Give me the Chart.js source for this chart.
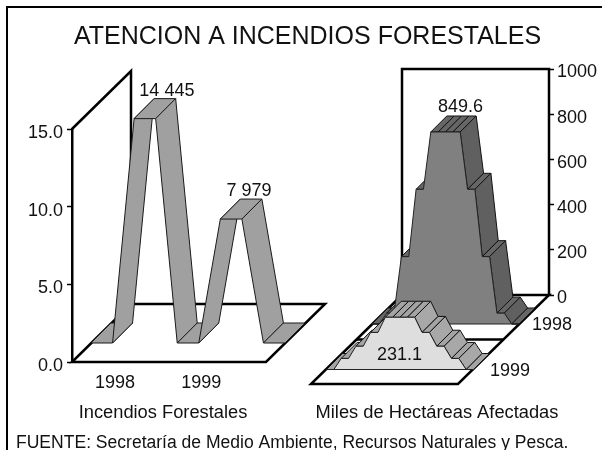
<!DOCTYPE html>
<html><head><meta charset="utf-8">
<style>html,body{margin:0;padding:0;background:#fff}canvas{display:block}</style>
<script src="https://cdn.jsdelivr.net/npm/chart.js@4"></script>
</head><body><canvas id="c" width="602" height="450"></canvas>
<script>
const chartTitle = 'ATENCION A INCENDIOS FORESTALES';
const sourceNote = 'FUENTE: Secretaría de Medio Ambiente, Recursos Naturales y Pesca.';
const leftAxisName = 'Incendios Forestales';
const rightAxisName = 'Miles de Hectáreas Afectadas';
const fireCategories = ['', '', '1998', '', '', '', '1999', '', '', ''];
const fireValues = [0, 0, 14.445, 14.445, 0, 0, 7.979, 7.979, 0, 0];
const fireLabels = ['14 445', '7 979'];
const areaSteps = ['0','1','2','3','4','5','6','7','8','9','10','11','12','13','14','15','16','17','18','19','20'];
const area1998 = [0,0,48,48,298,298,596,596,849.6,849.6,849.6,849.6,849.6,596,596,298,298,48,48,0,0];
const area1999 = [0,0,49,49,103,103,164,164,231.1,231.1,231.1,231.1,231.1,164,164,103,103,49,49,0,0];
const areaYearLabels = ['1998', '1999'];
const areaValueLabels = ['849.6', '231.1'];

const INK = '#000', TXT = '#111', FF = '"Liberation Sans", Arial, sans-serif';

function place(s, l, t, r, b, shift) {
  s.left = l; s.top = t; s.right = r; s.bottom = b; s.width = r - l; s.height = b - t; s.configure();
  if (shift && !s._shifted) {
    const orig = s._computeLabelItems;
    s._computeLabelItems = function (a) {
      const items = orig.call(this, a);
      items.forEach(it => { it.options.translation = [it.options.translation[0], it.options.translation[1] + shift]; });
      return items;
    };
    s._shifted = true;
  }
}
function poly(ctx, pts, fill, lw, stroke) {
  ctx.beginPath();
  pts.forEach((p, i) => i ? ctx.lineTo(p[0], p[1]) : ctx.moveTo(p[0], p[1]));
  ctx.closePath();
  if (fill) { ctx.fillStyle = fill; ctx.fill(); }
  ctx.lineWidth = lw || 1; ctx.strokeStyle = stroke || '#111'; ctx.lineJoin = 'round'; ctx.stroke();
}
function path(ctx, pts, lw) {
  ctx.beginPath();
  pts.forEach((p, i) => i ? ctx.lineTo(p[0], p[1]) : ctx.moveTo(p[0], p[1]));
  ctx.lineWidth = lw; ctx.strokeStyle = INK; ctx.lineJoin = 'miter'; ctx.stroke();
}
function text(ctx, s, x, y, size, align) {
  ctx.font = size + 'px ' + FF; ctx.fillStyle = TXT; ctx.textAlign = align || 'center'; ctx.textBaseline = 'middle';
  ctx.fillText(s, x, y);
}
const scene = {
  id: 'scene',
  afterLayout(chart) {
    const s = chart.scales;
    place(s.y, 0, 129, 72, 362, 4);
    place(s.x, 72, 362, 266, 400);
    place(s.yR, 549, 69, 600, 295, 3.5);
    place(s.xR, 311, 384, 458, 400);
  },
  beforeDatasetsDraw(chart) {
    const c = chart.ctx, s = chart.scales;
    c.save();
    // outer frame: top and left rules only
    path(c, [[7, 450], [7, 7], [602, 7]], 2);
    // left walls and floor
    const lx0 = s.x.left, lx1 = s.x.right, ly0 = s.y.bottom, ly1 = s.y.top, dp = 59, dq = 58;
    path(c, [[lx0, ly1], [lx0 + dp, ly1 - dq], [lx0 + dp, ly0 - dq], [lx1 + dp, ly0 - dq], [lx1, ly0], [lx0, ly0], [lx0 + dp, ly0 - dq]], 2.5);
    // right walls and floor
    const rb0 = s.yR.bottom, rt = s.yR.top, rl = s.xR.left, rr = s.xR.right, fy = s.xR.top;
    const ddx = s.yR.left - rr;
    path(c, [[rr + ddx, rb0], [rr + ddx, rt], [rl + ddx, rt], [rl + ddx, rb0], [rr + ddx, rb0], [rr, fy], [rl, fy], [rl + ddx, rb0]], 2.5);
    path(c, [[rl + ddx / 2, (fy + rb0) / 2], [rr + ddx / 2, (fy + rb0) / 2]], 2.5);
    c.restore();
  },
  afterDatasetsDraw(chart) {
    const c = chart.ctx;
    c.save();
    // Left ribbon
    const mf = chart.getDatasetMeta(0).data, dz0 = 19, dz1 = 20;
    const front = i => [mf[i].x + dz0, mf[i].y - dz0];
    const back = i => [mf[i].x + dz0 + dz1, mf[i].y - dz0 - dz1];
    for (let i = 0; i < mf.length - 1; i++) {
      poly(c, [front(i), front(i + 1), back(i + 1), back(i)], '#a0a0a0', 1, '#1a1a1a');
    }
    // Right series: rows in depth, back row first
    const sy = chart.scales.xR.top - chart.scales.yR.bottom;
    const rows = [
      { idx: 1, dx: 61, dy: 60, faceC: '#808080', sideC: '#606060', topC: '#666666' },
      { idx: 2, dx: 15.5, dy: 14.5, faceC: '#dedede', sideC: '#a8a8a8', topC: '#a4a4a4' }
    ];
    rows.forEach(r => {
      const m = chart.getDatasetMeta(r.idx).data;
      const F = i => [m[i].x + r.dx, m[i].y + sy - r.dy];
      const B = i => [m[i].x + r.dx + 16, m[i].y + sy - r.dy - 16];
      for (let i = 0; i < m.length - 1; i++) {
        if (m[i + 1].y < m[i].y - 0.5) continue;
        poly(c, [F(i), F(i + 1), B(i + 1), B(i)], m[i + 1].y > m[i].y + 0.5 ? r.sideC : r.topC, 1, '#111');
      }
      const pts = [];
      for (let i = 0; i < m.length; i++) pts.push(F(i));
      poly(c, pts, r.faceC, 1, '#222');
    });
    // value labels, positioned from the data points
    const p = chart.getDatasetMeta(0).data, r1 = chart.getDatasetMeta(1).data, r2 = chart.getDatasetMeta(2).data;
    text(c, fireLabels[0], (p[2].x + p[3].x) / 2 + 41, p[2].y - 47, 18);
    text(c, fireLabels[1], (p[6].x + p[7].x) / 2 + 37, p[6].y - 47, 18);
    text(c, areaValueLabels[0], r1[10].x + 76, r1[10].y + sy - 76 - 9, 18);
    text(c, areaValueLabels[1], r2[10].x + 15, r2[10].y + sy + 23, 18);
    // depth axis labels
    text(c, areaYearLabels[0], 532, 325, 18, 'left');
    text(c, areaYearLabels[1], 490, 371, 18, 'left');
    text(c, chartTitle, 307.5, 37, 25);
    text(c, leftAxisName, 163, 413, 18.3);
    text(c, rightAxisName, 437, 413, 18.3);
    text(c, sourceNote, 16, 443, 17.55, 'left');
    c.restore();
  }
};
const tickFont = { family: FF, size: 18 };
new Chart(document.getElementById('c'), {
  type: 'line',
  data: {
    labels: fireCategories,
    datasets: [
      { label: leftAxisName, data: fireValues, xAxisID: 'x', yAxisID: 'y', borderWidth: 0, pointRadius: 0, borderColor: 'transparent' },
      { label: areaYearLabels[0], data: area1998, xAxisID: 'xR', yAxisID: 'yR', borderWidth: 0, pointRadius: 0, borderColor: 'transparent' },
      { label: areaYearLabels[1], data: area1999, xAxisID: 'xR', yAxisID: 'yR', borderWidth: 0, pointRadius: 0, borderColor: 'transparent' }
    ]
  },
  options: {
    responsive: false, animation: false, events: [],
    plugins: { legend: { display: false }, tooltip: { enabled: false }, title: { display: false } },
    scales: {
      x: { type: 'category', position: 'bottom', labels: fireCategories, offset: false,
           grid: { display: false }, border: { display: false },
           ticks: { autoSkip: false, maxRotation: 0, padding: 2, color: TXT, font: tickFont } },
      y: { type: 'linear', position: 'left', min: 0, max: 15,
           grid: { drawOnChartArea: false, tickLength: 5, tickColor: INK, tickWidth: 1.5 },
           border: { color: INK, width: 2.5 },
           ticks: { stepSize: 5, padding: 4, color: TXT, font: tickFont, callback: v => v.toFixed(1) } },
      xR: { type: 'category', position: 'bottom', labels: areaSteps, offset: false, display: false },
      yR: { type: 'linear', position: 'right', min: 0, max: 1000,
           grid: { drawOnChartArea: false, tickLength: 5, tickColor: INK, tickWidth: 1.5 },
           border: { display: false },
           ticks: { stepSize: 200, padding: 3, color: TXT, font: tickFont, callback: v => String(v) } }
    }
  },
  plugins: [scene]
});
</script></body></html>
